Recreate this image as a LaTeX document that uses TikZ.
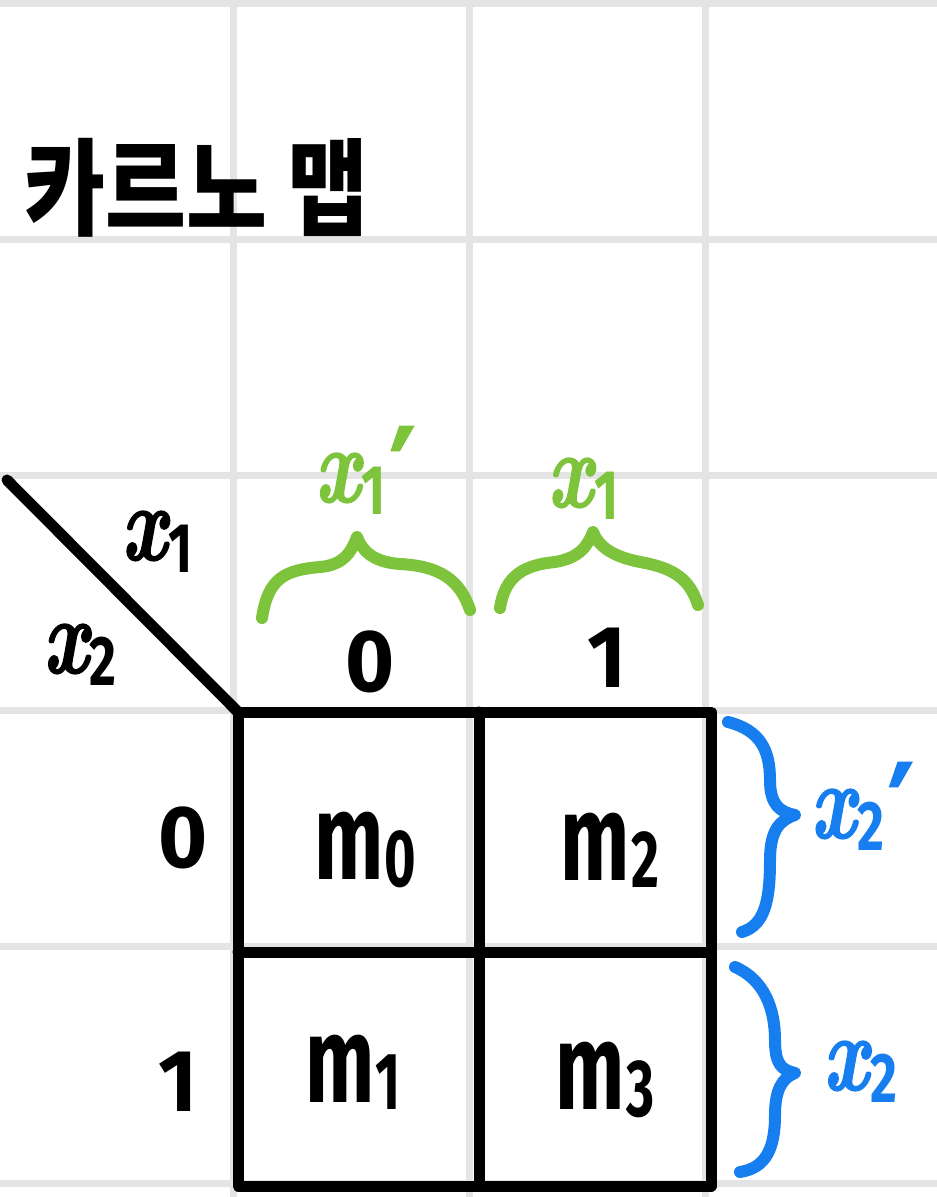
\documentclass[tikz,border=0pt]{standalone}
\usepackage{fontspec}
\usepackage{graphicx}
\newfontfamily\krfont{Noto Sans CJK KR}
\newfontfamily\hwf{Latin Modern Roman}[FakeBold=1.5]
\newfontfamily\sff{Fira Sans}
\newfontfamily\dvf{DejaVu Sans}[FakeBold=2]
\definecolor{gridgray}{RGB}{228,228,228}
\definecolor{kgreen}{RGB}{125,196,60}
\definecolor{kblue}{RGB}{22,126,238}
% handwritten-like variable x with subscript and optional prime
\newcommand{\xv}[2]{\scalebox{1}[1.35]{\fontsize{80}{90}\hwf\bfseries\itshape x\kern2pt\raisebox{-0.12em}{\sff\upshape\bfseries\fontsize{52}{56}\selectfont #1}#2}}
\newcommand{\pr}{\kern4pt\smash{\raisebox{-0.17em}{\dvf\upshape\fontsize{95}{95}\selectfont ′}}}
\newcommand{\mv}[1]{\scalebox{1}[1.5]{\sff\bfseries\fontsize{82}{90}\selectfont m\kern1pt\raisebox{-0.06em}{\fontsize{54}{58}\selectfont #1}}}
\newcommand{\dg}[1]{\scalebox{1.05}[1.1]{\sff\bfseries\fontsize{80}{90}\selectfont #1}}
\tikzset{
  gridline/.style={draw=gridgray,line width=7pt},
  kline/.style={draw=black,line width=11pt,line cap=round,line join=round},
  brace/.style={line width=12pt,line cap=round,line join=round},
  hand/.style={inner sep=0pt},
  title/.style={inner sep=0pt,anchor=west,font=\krfont\bfseries\fontsize{88}{96}\selectfont}
}
\begin{document}
\begin{tikzpicture}[x=1pt,y=-1pt]
\useasboundingbox (0,0) rectangle (937,1197);
\fill[white] (0,0) rectangle (937,1197);
% background grid
\foreach \x in {233,469,705} \draw[gridline] (\x,0) -- (\x,1197);
\foreach \y in {3,239,475,710,946,1183} \draw[gridline] (0,\y) -- (937,\y);
% title
\node[title] (title) at (24,188) {\scalebox{1}[1.2]{카르노 맵}};
% diagonal and map box
\coordinate (dstart) at (7,480);
\coordinate (tl) at (238,712);
\coordinate (br) at (711,1186);
\draw[kline] (dstart) -- (tl);
\draw[kline] (tl) rectangle (br);
\draw[kline] (479,712) -- (479,1186);
\draw[kline] (238,952) -- (711,952);
% axis labels
\node[hand] (x1) at (157,542) {\xv{1}{}};
\node[hand] (x2) at (80,655) {\xv{2}{}};
% headers
\node[hand] (c0) at (370,662) {\dg{0}};
\node[hand] (c1) at (607,658) {\dg{1}};
\node[hand] (r0) at (183,838) {\dg{0}};
\node[hand] (r1) at (178,1082) {\dg{1}};
% cells
\node[hand] (m0) at (365,850) {\mv{0}};
\node[hand] (m2) at (610,850) {\mv{2}};
\node[hand] (m1) at (353,1072) {\mv{1}};
\node[hand] (m3) at (605,1080) {\mv{3}};
% green braces
\draw[brace,kgreen] (262,618) .. controls (268,578) and (285,570) .. (320,567)
  .. controls (345,565) and (352,550) .. (357,537)
  .. controls (362,550) and (372,562) .. (400,564)
  .. controls (440,566) and (460,580) .. (470,610);
\draw[brace,kgreen] (500,608) .. controls (505,575) and (525,565) .. (555,562)
  .. controls (580,558) and (588,545) .. (593,532)
  .. controls (598,545) and (610,556) .. (640,562)
  .. controls (675,568) and (690,580) .. (698,605);
\node[hand,text=kgreen] (g0) at (365,484) {\xv{1}{\pr}};
\node[hand,text=kgreen] (g1) at (583,489) {\xv{1}{}};
% blue braces
\draw[brace,kblue] (728,722) .. controls (760,730) and (770,750) .. (770,780)
  .. controls (770,805) and (780,812) .. (795,815)
  .. controls (780,820) and (770,830) .. (770,860)
  .. controls (770,900) and (765,925) .. (742,932);
\draw[brace,kblue] (735,967) .. controls (765,980) and (775,1010) .. (775,1040)
  .. controls (775,1065) and (782,1070) .. (795,1073)
  .. controls (782,1078) and (775,1090) .. (775,1115)
  .. controls (775,1150) and (765,1168) .. (740,1172);
\node[hand,text=kblue] (b0) at (862,820) {\xv{2}{\pr}};
\node[hand,text=kblue] (b1) at (860,1072) {\xv{2}{}};
\end{tikzpicture}
\end{document}
